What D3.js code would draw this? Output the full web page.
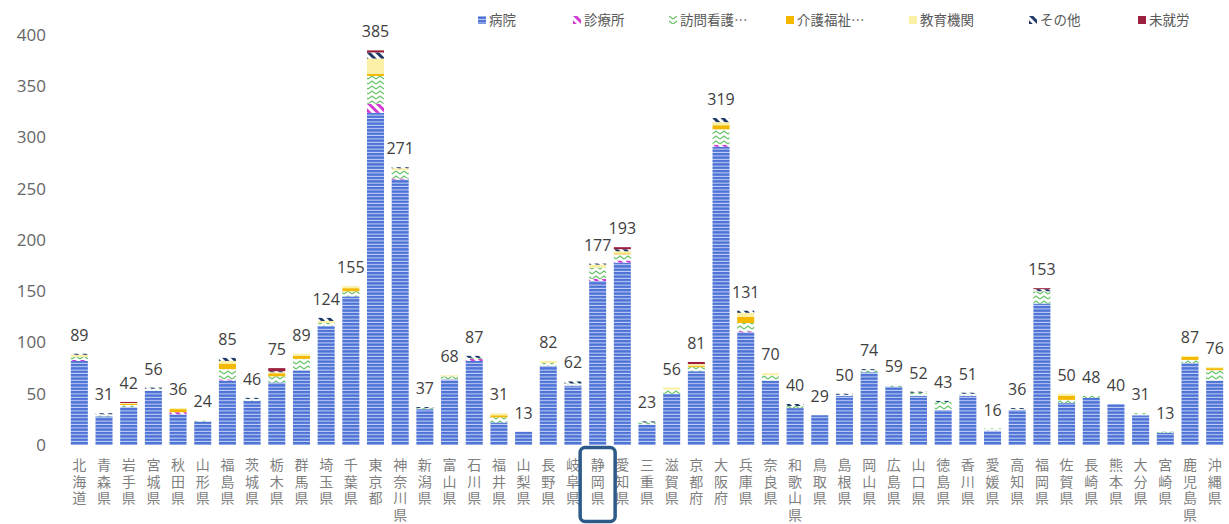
<!DOCTYPE html>
<html lang="ja">
<head>
<meta charset="utf-8">
<script src="https://cdn.jsdelivr.net/npm/d3@7"></script>
<style>
  html, body { margin: 0; padding: 0; background: #ffffff; }
  svg { display: block; font-family: "Noto Sans CJK JP", "Noto Sans", sans-serif; }
  .cat { writing-mode: vertical-rl; text-orientation: upright; }
</style>
</head>
<body>
<svg id="chart" width="1229" height="524"></svg>
<script>
// 都道府県
const prefectures = ["北海道","青森県","岩手県","宮城県","秋田県","山形県","福島県","茨城県","栃木県","群馬県",
  "埼玉県","千葉県","東京都","神奈川県","新潟県","富山県","石川県","福井県","山梨県","長野県",
  "岐阜県","静岡県","愛知県","三重県","滋賀県","京都府","大阪府","兵庫県","奈良県","和歌山県",
  "鳥取県","島根県","岡山県","広島県","山口県","徳島県","香川県","愛媛県","高知県","福岡県",
  "佐賀県","長崎県","熊本県","大分県","宮崎県","鹿児島県","沖縄県"];

// 就業先別の人数
const hospital     = [82,28,37,53,30,23,63,43,61,73,116,145,324,259,35,64,82,22,13,77,58,160,178,20,50,72,291,110,63,36,29,48,71,57,48,34,48,14,34,138,41,46,40,29,12,80,63];
const clinic       = [1,0,0,0,2,0,1,0,0,0,0,0,9,1,0,0,2,0,0,0,0,2,2,0,0,0,2,1,0,0,0,0,0,0,0,0,0,0,0,0,0,0,0,0,0,0,0];
const homeNursing  = [3,2,2,2,0,1,10,2,6,11,3,5,27,8,1,3,1,5,0,3,2,11,6,2,4,4,15,8,5,2,0,1,2,2,3,8,2,2,1,12,3,2,0,2,1,3,10];
const welfare      = [0,0,1,0,3,0,5,0,3,3,0,3,2,0,0,0,0,2,0,0,0,0,1,0,0,1,4,6,0,0,0,0,0,0,0,0,0,0,0,0,4,0,0,0,0,3,2];
const education    = [2,0,1,0,1,0,3,0,1,2,2,2,15,2,0,1,0,2,0,2,0,3,2,0,2,2,3,4,2,0,0,0,0,0,0,0,0,0,0,0,2,0,0,0,0,1,1];
const other        = [1,1,0,1,0,0,3,1,1,0,3,0,6,1,1,0,2,0,0,0,2,1,2,1,0,0,4,2,0,2,0,1,1,0,1,1,1,0,1,2,0,0,0,0,0,0,0];
const unemployed   = [0,0,1,0,0,0,0,0,3,0,0,0,2,0,0,0,0,0,0,0,0,0,2,0,0,2,0,0,0,0,0,0,0,0,0,0,0,0,0,1,0,0,0,0,0,0,0];

const seriesKeys   = ["hospital","clinic","homeNursing","welfare","education","other","unemployed"];
const seriesNames  = ["病院","診療所","訪問看護⋯","介護福祉⋯","教育機関","その他","未就労"];
const yTicks       = [0,50,100,150,200,250,300,350,400];
const highlighted  = "静岡県";

const columns = { hospital, clinic, homeNursing, welfare, education, other, unemployed };
const rows = prefectures.map((p, i) => {
  const r = { pref: p };
  seriesKeys.forEach(k => r[k] = columns[k][i]);
  r.total = seriesKeys.reduce((s, k) => s + r[k], 0);
  return r;
});

const svg = d3.select("#chart");
const defs = svg.append("defs");

// fill patterns
const pHosp = defs.append("pattern").attr("id", "pat-hospital")
  .attr("patternUnits", "userSpaceOnUse").attr("width", 6).attr("height", 3.4);
pHosp.append("rect").attr("width", 6).attr("height", 3.4).attr("fill", "#4d72d6");
pHosp.append("rect").attr("y", 2.4).attr("width", 6).attr("height", 1).attr("fill", "#c8d5f6");

function stripes(id, color) {
  const p = defs.append("pattern").attr("id", id)
    .attr("patternUnits", "userSpaceOnUse").attr("width", 6).attr("height", 6)
    .attr("patternTransform", "rotate(-45)");
  p.append("rect").attr("width", 6).attr("height", 6).attr("fill", "#ffffff");
  p.append("rect").attr("width", 3).attr("height", 6).attr("fill", color);
}
stripes("pat-clinic", "#d23bd2");
stripes("pat-other", "#1f3a68");

const pZig = defs.append("pattern").attr("id", "pat-homeNursing")
  .attr("patternUnits", "userSpaceOnUse").attr("width", 8).attr("height", 5);
pZig.append("rect").attr("width", 8).attr("height", 5).attr("fill", "#ffffff");
pZig.append("path").attr("d", "M0,4 L4,1 L8,4").attr("fill", "none")
  .attr("stroke", "#6cc46c").attr("stroke-width", 1.4);

const fills = {
  hospital: "url(#pat-hospital)",
  clinic: "url(#pat-clinic)",
  homeNursing: "url(#pat-homeNursing)",
  welfare: "#f5b800",
  education: "#fbf0a6",
  other: "url(#pat-other)",
  unemployed: "#9b1f3e"
};

// scales
const x = d3.scaleBand().domain(prefectures).range([67, 1227]).paddingInner(0.31).paddingOuter(0.155);
const y = d3.scaleLinear().domain([0, 400]).range([445, 35]);
const cx = d => x(d) + x.bandwidth() / 2;

// y axis labels
const yAxis = svg.append("g").attr("transform", "translate(46,0)")
  .call(d3.axisLeft(y).tickValues(yTicks).tickSize(0).tickPadding(0));
yAxis.select(".domain").remove();
yAxis.selectAll("text").attr("fill", "#666666").attr("font-size", 17)
  .attr("font-family", "'Open Sans', 'Noto Sans', sans-serif");

// stacked bars
const stack = d3.stack().keys(seriesKeys)(rows);
const layers = svg.append("g").selectAll("g").data(stack).join("g")
  .attr("fill", d => fills[d.key]);
layers.selectAll("rect").data(d => d).join("rect")
  .attr("x", d => x(d.data.pref))
  .attr("width", x.bandwidth())
  .attr("y", d => y(d[1]))
  .attr("height", d => Math.max(0, y(d[0]) - y(d[1])));

// totals
svg.append("g").selectAll("text").data(rows).join("text")
  .attr("x", d => cx(d.pref))
  .attr("y", d => y(d.total) - 13)
  .attr("text-anchor", "middle")
  .attr("font-size", 16)
  .attr("font-family", "'Open Sans', 'Noto Sans', sans-serif")
  .attr("fill", "#404040")
  .text(d => d.total);

// category labels: one upright character per line, top to bottom
const chars = prefectures.flatMap(p => Array.from(p).map((ch, i) => ({ p, ch, i })));
svg.append("g").selectAll("text").data(chars).join("text")
  .attr("class", "cat")
  .attr("x", d => cx(d.p))
  .attr("y", d => 458 + d.i * 16.4)
  .attr("font-size", 14)
  .attr("fill", "#7f7f7f")
  .text(d => d.ch);

// highlight box
const hx = cx(highlighted);
svg.append("rect")
  .attr("x", hx - 17.5).attr("y", 447.5)
  .attr("width", 35).attr("height", 74)
  .attr("rx", 5)
  .attr("fill", "none").attr("stroke", "#2d5a88").attr("stroke-width", 3.5);

// legend
const legendX = [482, 577, 673, 790, 913, 1033, 1142];
const legend = svg.append("g").selectAll("g").data(seriesKeys).join("g")
  .attr("transform", (d, i) => `translate(${legendX[i]},20)`);
legend.append("rect").attr("x", -4).attr("y", -4).attr("width", 8).attr("height", 8)
  .attr("fill", d => fills[d]);
legend.append("text").attr("x", 7).attr("y", 0).attr("dy", "0.35em")
  .attr("font-size", 13.5).attr("fill", "#595959")
  .text((d, i) => seriesNames[i]);
</script>
</body>
</html>
